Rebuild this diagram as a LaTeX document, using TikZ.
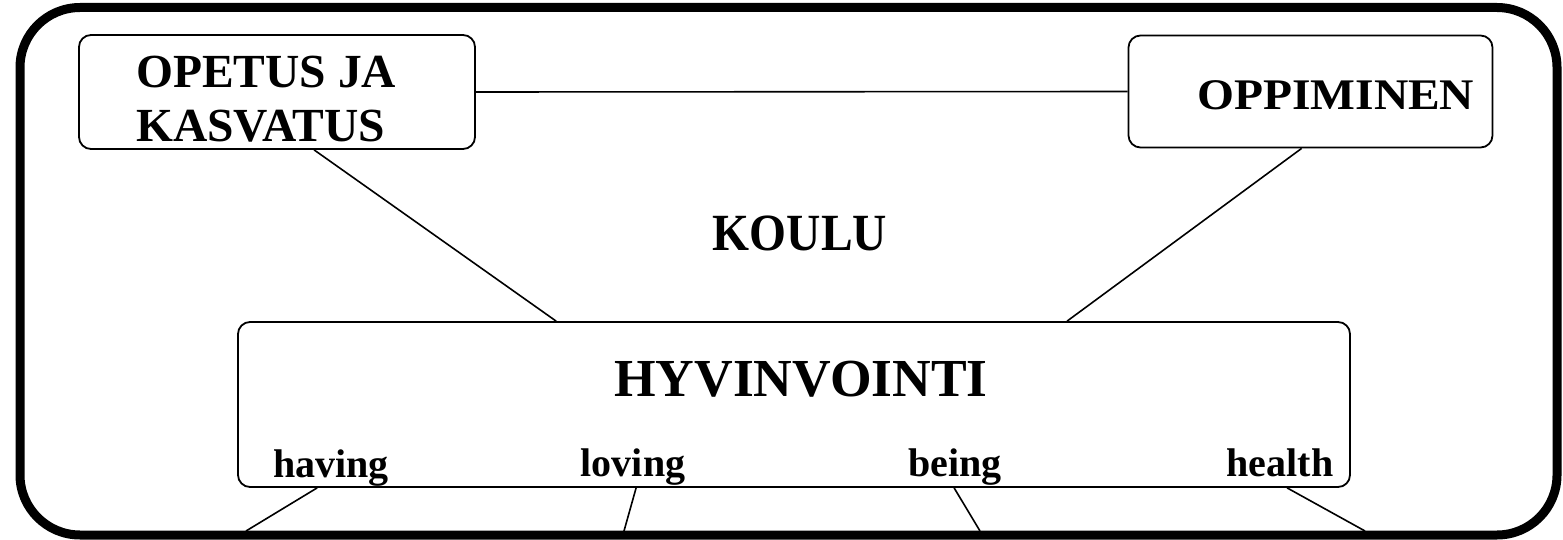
\documentclass[tikz,border=0pt]{standalone}
\usepackage{fontspec}
\setmainfont{Liberation Serif}
\begin{document}
\begin{tikzpicture}[x=1pt,y=-1pt,
  frame/.style={draw, line width=9pt, rounded corners=60pt},
  box/.style={draw, line width=1.8pt, rounded corners=12pt, inner sep=0pt},
  conn/.style={line width=1.6pt},
  big/.style={font=\fontsize{47.5}{52}\selectfont\bfseries, inner sep=0pt},
  huge/.style={font=\fontsize{53.5}{58}\selectfont\bfseries, inner sep=0pt},
  small/.style={font=\fontsize{40}{44}\selectfont\bfseries, inner sep=0pt}]
\useasboundingbox (0,0) rectangle (1563,540);
\draw[frame] (20,7.5) rectangle (1557,535);
% boxes
\node[box, minimum width=396pt, minimum height=114pt] (ok) at (277,92) {};
\node[box, minimum width=364pt, minimum height=112pt] (opp) at (1310.5,91.5) {};
\node[box, minimum width=1112pt, minimum height=165pt] (hyv) at (794,404.5) {};
% texts
\node[big, anchor=base west] (t1) at (136,88) {OPETUS JA};
\node[big, anchor=base west] (t2) at (136,142) {KASVATUS};
\node[big, anchor=base west, yscale=0.92] (t3) at (1197,110) {OPPIMINEN};
\node[big, anchor=base, yscale=1.1] (koulu) at (800,250) {KOULU};
\node[huge, anchor=base] (hyvt) at (801,396) {HYVINVOINTI};
\node[small, anchor=base] (having) at (331,477) {having};
\node[small, anchor=base] (loving) at (633,476) {loving};
\node[small, anchor=base] (being) at (955,476) {being};
\node[small, anchor=base] (health) at (1280,476) {health};
% bottom free ends
\coordinate (e1) at (246,531);
\coordinate (e2) at (624,531);
\coordinate (e3) at (980,531);
\coordinate (e4) at (1365,531);
% connectors
\draw[conn] (ok.east) -- (opp.west);
\draw[conn] ([xshift=236pt]ok.south west) -- ([xshift=319pt]hyv.north west);
\draw[conn] ([xshift=174pt]opp.south west) -- ([xshift=830pt]hyv.north west);
\draw[conn] ([xshift=80pt]hyv.south west) -- (e1);
\draw[conn] ([xshift=399pt]hyv.south west) -- (e2);
\draw[conn] ([xshift=717pt]hyv.south west) -- (e3);
\draw[conn] ([xshift=1050pt]hyv.south west) -- (e4);
\end{tikzpicture}
\end{document}
